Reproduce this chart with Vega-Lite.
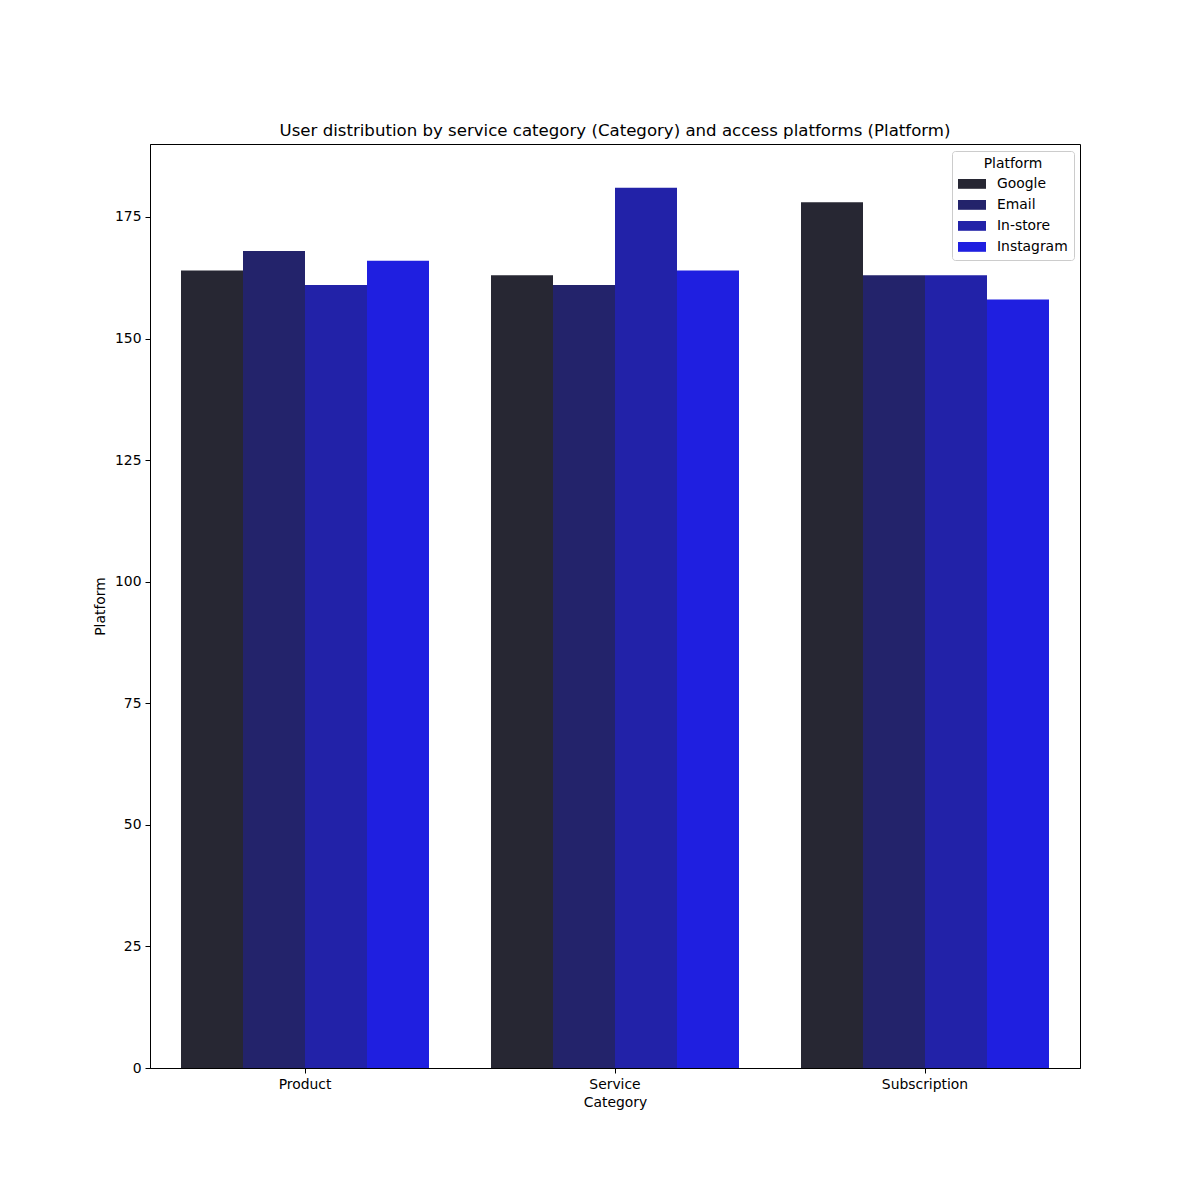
{
  "$schema": "https://vega.github.io/schema/vega-lite/v6.json",
  "width": 930,
  "height": 924,
  "autosize": {"type": "none"},
  "padding": {"left": 150, "top": 144, "right": 120, "bottom": 132},
  "background": "white",
  "config": {
    "font": "DejaVu Sans",
    "view": {"stroke": "black", "strokeWidth": 1},
    "axis": {
      "labelFont": "DejaVu Sans",
      "titleFont": "DejaVu Sans",
      "labelFontSize": 13.9,
      "titleFontSize": 13.9,
      "titleFontWeight": "normal",
      "labelColor": "black",
      "titleColor": "black",
      "tickColor": "black",
      "domainColor": "black",
      "tickSize": 5,
      "grid": false
    }
  },
  "title": {
    "text": "User distribution by service category (Category) and access platforms (Platform)",
    "font": "DejaVu Sans",
    "fontSize": 16.6,
    "fontWeight": "normal",
    "color": "black",
    "offset": 4
  },
  "data": {
    "values": [
      {"Category": "Product", "Platform": "Google", "count": 164},
      {"Category": "Product", "Platform": "Email", "count": 168},
      {"Category": "Product", "Platform": "In-store", "count": 161},
      {"Category": "Product", "Platform": "Instagram", "count": 166},
      {"Category": "Service", "Platform": "Google", "count": 163},
      {"Category": "Service", "Platform": "Email", "count": 161},
      {"Category": "Service", "Platform": "In-store", "count": 181},
      {"Category": "Service", "Platform": "Instagram", "count": 164},
      {"Category": "Subscription", "Platform": "Google", "count": 178},
      {"Category": "Subscription", "Platform": "Email", "count": 163},
      {"Category": "Subscription", "Platform": "In-store", "count": 163},
      {"Category": "Subscription", "Platform": "Instagram", "count": 158}
    ]
  },
  "mark": {"type": "bar"},
  "encoding": {
    "x": {
      "field": "Category",
      "type": "nominal",
      "sort": ["Product", "Service", "Subscription"],
      "title": "Category",
      "scale": {"paddingInner": 0.2, "paddingOuter": 0.1},
      "axis": {"labelAngle": 0, "titlePadding": 5, "labelPadding": 4}
    },
    "xOffset": {
      "field": "Platform",
      "sort": ["Google", "Email", "In-store", "Instagram"],
      "scale": {"paddingInner": 0, "paddingOuter": 0}
    },
    "y": {
      "field": "count",
      "type": "quantitative",
      "title": "Platform",
      "scale": {"domain": [0, 190], "nice": false},
      "axis": {"values": [0, 25, 50, 75, 100, 125, 150, 175], "titlePadding": 7, "labelPadding": 4}
    },
    "color": {
      "field": "Platform",
      "sort": ["Google", "Email", "In-store", "Instagram"],
      "scale": {
        "domain": ["Google", "Email", "In-store", "Instagram"],
        "range": ["#272733", "#23236b", "#2222a8", "#1f1fe0"]
      },
      "legend": {
        "orient": "none",
        "legendX": 802,
        "legendY": 7,
        "title": "Platform",
        "titleFont": "DejaVu Sans",
        "titleFontSize": 13.9,
        "titleFontWeight": "normal",
        "titleColor": "black",
        "titleAnchor": "middle",
        "titlePadding": 6,
        "labelFont": "DejaVu Sans",
        "labelFontSize": 13.9,
        "labelColor": "black",
        "labelOffset": 18,
        "symbolOffset": 7,
        "symbolType": "M-2,-0.7H2V0.7H-2Z",
        "symbolSize": 196,
        "symbolStrokeWidth": 0,
        "rowPadding": 7,
        "padding": 6,
        "fillColor": "white",
        "strokeColor": "#cccccc",
        "cornerRadius": 3
      }
    }
  }
}
